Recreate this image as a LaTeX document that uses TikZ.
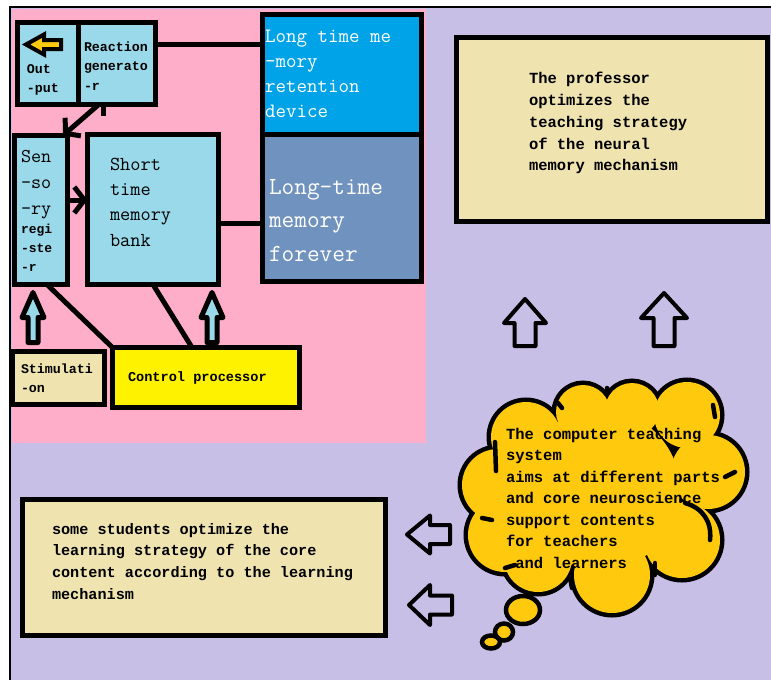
\documentclass[tikz,border=0pt]{standalone}
\usepackage{fontspec}
\newfontfamily\labelmono{Liberation Mono}
\usetikzlibrary{arrows.meta}

\definecolor{bgpink}{HTML}{FFAEC9}
\definecolor{bglav}{HTML}{C8BFE7}
\definecolor{cellblue}{HTML}{99D9EA}
\definecolor{deepblue}{HTML}{00A2E8}
\definecolor{slateblue}{HTML}{7092BE}
\definecolor{lemon}{HTML}{FFF200}
\definecolor{cream}{HTML}{EFE4B0}
\definecolor{gold}{HTML}{FFC90E}

\newcommand\heavytt[2]{\ttfamily\fontsize{#1}{#2}\selectfont\addfontfeature{FakeBold=1.2}}

\tikzset{
  box/.style={draw=black, line width=5pt, rectangle, inner sep=0pt, outer sep=0pt},
  conn/.style={draw=black, line width=5pt},
  txt/.style={inner sep=0pt, outer sep=0pt, anchor=north west, align=left},
  smallbold/.style={txt, font=\labelmono\bfseries\fontsize{13.3}{19.5}\selectfont},
  bodybold/.style={txt, font=\labelmono\bfseries\fontsize{15.5}{21.7}\selectfont},
  blockarrow/.style={draw=black, line join=round},
  % block arrow pointing up: body half width, head half width, head base height, total length
  pics/upblk/.style n args={4}{code={
    \path[pic actions] (-#1,0) -- (-#1,-#3) -- (-#2,-#3) -- (0,-#4) -- (#2,-#3) -- (#1,-#3) -- (#1,0) -- cycle;}},
  % block arrow pointing left, origin at the tail centre
  pics/leftblk/.style n args={4}{code={
    \path[pic actions] (0,-#1) -- (-#3,-#1) -- (-#3,-#2) -- (-#4,0) -- (-#3,#2) -- (-#3,#1) -- (0,#1) -- cycle;}},
}

\begin{document}
\begin{tikzpicture}[x=1pt, y=-1pt]
\useasboundingbox (0,0) rectangle (771,680);

% canvas
\fill[white] (0,0) rectangle (771,680);
\fill[bglav] (10,7) rectangle (771,680);
\fill[bgpink] (12,9) rectangle (426,443);
\draw[line width=2pt] (10,680) -- (10,7) -- (771,7);

% ---------- memory model ----------
\node[box, fill=cellblue, minimum width=60.5pt, minimum height=82pt] (outcell) at (47.75,63.5) {};
\node[box, fill=cellblue, minimum width=77.5pt, minimum height=82pt] (react) at (116.75,63.5) {};
\node[box, fill=deepblue, minimum width=159pt, minimum height=119.5pt] (ltr) at (342,74.25) {};
\node[box, fill=slateblue, minimum width=159pt, minimum height=147.5pt] (ltf) at (342,207.75) {};
\node[box, fill=cellblue, minimum width=53pt, minimum height=149pt] (sens) at (41,210) {};
\node[box, fill=cellblue, minimum width=131pt, minimum height=150pt] (stm) at (153,209.5) {};
\node[box, fill=cream, minimum width=92pt, minimum height=53pt] (stim) at (58.5,378) {};
\node[box, fill=lemon, minimum width=187pt, minimum height=60pt] (ctrl) at (206,377.5) {};

% output arrow inside the output cell
\pic[blockarrow, line width=4pt, line join=miter, fill=gold] at (61,44.5) {leftblk={4.5}{10}{17}{35}};

% connectors
\draw[conn] ([yshift=19.5pt]react.east) -- ([yshift=19.5pt]react.east -| ltr.west);
\coordinate (stubend) at (103,116);
\draw[conn] (stubend |- react.south) -- (stubend);
\draw[conn, -{Straight Barb[length=10pt,width=24pt]}] ([xshift=-18pt]react.south) -- ([xshift=22pt]sens.north);
\draw[conn, -{Straight Barb[length=10pt,width=26pt]}] ([yshift=10pt]sens.east) -- ([yshift=10pt]sens.east -| stm.west);
\draw[conn] ([yshift=-13.5pt]stm.east) -- ([yshift=-13.5pt]stm.east -| ltf.west);
\draw[conn] ([xshift=6pt]sens.south) -- (ctrl.north west);
\draw[conn] (stm.south) -- ([xshift=-14pt]ctrl.north);

% input arrows
\pic[blockarrow, line width=5pt, fill=cellblue] at (33,342.5) {upblk={5}{11}{25}{50}};
\pic[blockarrow, line width=5pt, fill=cellblue] at (212,342.5) {upblk={5}{11}{25}{50}};

% labels
\node[smallbold] (t-out) at (27,64.5) {Out\\-put};
\node[smallbold] (t-react) at (84,41.5) {Reaction\\generato\\-r};
\node[txt, text=white, font=\heavytt{20.4}{25}] (t-ltr) at (265,30) {Long time me\\-mory\\retention\\device};
\node[txt, text=white, font=\heavytt{24.6}{33.5}] (t-ltf) at (269,179) {Long-time\\memory\\forever};
\node[txt, font=\heavytt{19.6}{26}] (t-sens1) at (21,150) {Sen\\-so\\-ry};
\node[txt, font=\labelmono\bfseries\fontsize{13}{19}\selectfont] (t-sens2) at (21,224.5) {regi\\-ste\\-r};
\node[txt, font=\heavytt{19.8}{25.3}] (t-stm) at (110,158) {Short\\time\\memory\\bank};
\node[smallbold] (t-stim) at (21,363.5) {Stimulati\\-on};
\node[smallbold, font=\labelmono\bfseries\fontsize{13.6}{19.5}\selectfont] (t-ctrl) at (128,371.5) {Control processor};

% ---------- teaching side ----------
\node[box, fill=cream, minimum width=311pt, minimum height=184pt] (prof) at (611.5,129) {};
\node[bodybold] (t-prof) at (529,72.5) {The professor\\optimizes the\\teaching strategy\\of the neural\\memory mechanism};

\node[box, fill=cream, minimum width=363pt, minimum height=136pt] (stud) at (204,567.5) {};
\node[bodybold, font=\labelmono\bfseries\fontsize{15.2}{21.7}\selectfont] (t-stud) at (52,523) {some students optimize the\\learning strategy of the core\\content according to the learning\\mechanism};

\pic[blockarrow, line width=4pt, fill=bglav] at (525,346) {upblk={10.5}{21}{23}{47}};
\pic[blockarrow, line width=4pt, fill=bglav] at (664,346) {upblk={10.5}{23}{28}{53}};
\pic[blockarrow, line width=4pt, fill=bglav] at (450,534.5) {leftblk={9.5}{19}{20}{43}};
\pic[blockarrow, line width=4pt, fill=bglav] at (452,605) {leftblk={9.5}{20}{22}{43}};

% thought cloud: lobes outlined, then filled to leave the outer rim
\def\cloudlobes{526/437/35, 583/412/27, 632/410/27, 687/415/33, 708/472/37,
  682/540/38, 612/575/38, 538/558/34, 505/535/37, 498/485/36, 600/490/80}
\foreach \cx/\cy/\r in \cloudlobes
  \draw[line width=9pt] (\cx,\cy) circle[radius=\r];
\foreach \cx/\cy/\r in \cloudlobes
  \fill[gold] (\cx,\cy) circle[radius=\r];
\begin{scope}[line width=4.5pt, line cap=round]
  \draw (495,442) -- (496,471);
  \draw (482,518) -- (492,520);
  \draw (505,568) -- (515,565);
  \draw (570,578) -- (572,588);
  \draw (655,563) -- (655,575);
  \draw (685,503) .. controls (703,508) and (712,522) .. (710,540);
  \draw (725,477) -- (735,472);
  \draw (713,405) -- (715,417);
  \draw (607,388) -- (608,393);
  \draw (558,403) -- (562,408);
\end{scope}
\draw[line width=4.5pt, fill=gold] (523,610) ellipse[x radius=17, y radius=14];
\draw[line width=4.5pt, fill=gold] (504,632) ellipse[x radius=9, y radius=8.5];
\draw[line width=4.5pt, fill=gold] (491,642) ellipse[x radius=9, y radius=6.5];
\node[bodybold, font=\labelmono\bfseries\fontsize{15.5}{21.5}\selectfont] (t-cloud) at (506,428) {The computer teaching\\system\\aims at different parts\\and core neuroscience\\support contents\\for teachers\\\ and learners};

\end{tikzpicture}
\end{document}
